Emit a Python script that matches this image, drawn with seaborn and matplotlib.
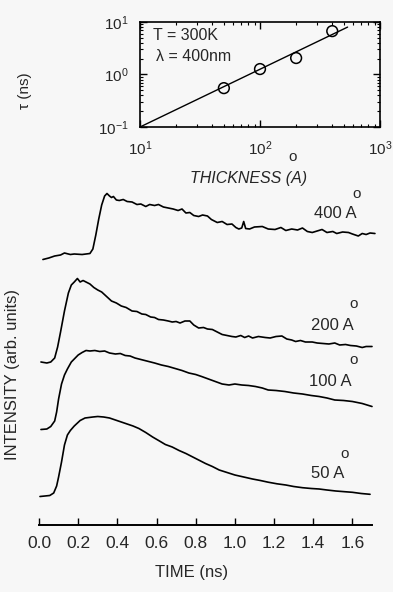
import matplotlib
matplotlib.use("Agg")
import matplotlib.pyplot as plt
import pandas as pd
import seaborn as sns
from matplotlib.ticker import LogLocator, LogFormatterMathtext

sns.set_theme(style="white")
plt.rcParams["font.family"] = ["Liberation Sans", "DejaVu Sans"]
plt.rcParams["mathtext.fontset"] = "custom"
plt.rcParams["mathtext.rm"] = "Liberation Sans"
plt.rcParams["mathtext.it"] = "Liberation Sans:italic"

BG = "#f7f7f7"

# ---- time-resolved PL traces (stacked, arb. units) ----
t_400 = [0.02, 0.05, 0.08, 0.11, 0.13, 0.16, 0.18, 0.22, 0.26, 0.275, 0.29, 0.305, 0.32, 0.335,
         0.347, 0.36, 0.37, 0.38, 0.395, 0.41, 0.43, 0.45, 0.475, 0.50, 0.52, 0.545, 0.565, 0.59,
         0.61, 0.635, 0.66, 0.685, 0.71, 0.73, 0.75, 0.77, 0.79, 0.815, 0.835, 0.86, 0.88, 0.91,
         0.935, 0.96, 0.985, 1.005, 1.02, 1.035, 1.045, 1.055, 1.075, 1.10, 1.14, 1.17, 1.205,
         1.235, 1.26, 1.29, 1.32, 1.345, 1.37, 1.395, 1.42, 1.445, 1.47, 1.50, 1.52, 1.55, 1.58,
         1.60, 1.63, 1.65, 1.67, 1.69, 1.715]
i_400 = [26.55, 26.7, 26.9, 27.0, 27.2, 27.05, 27.1, 27.05, 27.15, 27.6, 29.0, 30.6, 32.0, 32.9,
         33.15, 32.9, 32.75, 32.85, 32.5, 32.45, 32.55, 32.35, 32.3, 32.05, 32.1, 31.85, 32.05, 31.95,
         32.05, 31.8, 31.7, 31.6, 31.45, 31.6, 31.2, 31.25, 30.95, 30.85, 31.0, 30.9, 30.55, 30.25,
         30.35, 30.05, 30.1, 29.75, 29.6, 29.7, 30.35, 29.65, 29.6, 29.8, 29.85, 29.6, 29.55,
         29.75, 29.45, 29.6, 29.5, 29.7, 29.35, 29.25, 29.4, 29.55, 29.25, 29.35, 29.15, 29.3, 29.25,
         29.1, 28.9, 29.15, 29.05, 29.2, 29.15]

t_200 = [0.01, 0.04, 0.06, 0.08, 0.095, 0.11, 0.13, 0.15, 0.165, 0.18, 0.196, 0.21, 0.225, 0.24,
         0.26, 0.28, 0.30, 0.32, 0.345, 0.37, 0.395, 0.42, 0.445, 0.475, 0.50, 0.525, 0.545, 0.57,
         0.59, 0.61, 0.635, 0.66, 0.68, 0.70, 0.72, 0.745, 0.77, 0.79, 0.815, 0.84, 0.86, 0.885,
         0.91, 0.935, 0.96, 0.985, 1.005, 1.03, 1.05, 1.07, 1.09, 1.12, 1.155, 1.18, 1.21, 1.24,
         1.265, 1.29, 1.31, 1.335, 1.36, 1.395, 1.42, 1.45, 1.48, 1.51, 1.535, 1.565, 1.59, 1.62,
         1.65, 1.67, 1.70]
i_200 = [16.3, 16.2, 16.3, 16.7, 17.8, 19.3, 21.4, 23.2, 24.0, 24.3, 24.65, 24.3, 24.45, 24.3,
         24.1, 23.75, 23.5, 23.3, 22.85, 22.4, 22.2, 21.9, 21.75, 21.4, 21.35, 21.1, 21.05, 20.8,
         20.75, 20.55, 20.5, 20.4, 20.3, 20.35, 20.2, 20.4, 20.4, 20.0, 19.7, 19.75, 19.6, 19.55,
         19.3, 19.05, 18.95, 18.85, 18.8, 18.95, 18.75, 18.9, 18.7, 18.85, 18.75, 18.7, 18.85, 18.9,
         18.6, 18.5, 18.35, 18.45, 18.3, 18.3, 18.2, 18.15, 18.1, 18.2, 18.0, 18.05, 17.95, 17.9,
         17.75, 17.85, 17.85]

t_100 = [0.01, 0.04, 0.06, 0.08, 0.09, 0.10, 0.115, 0.13, 0.145, 0.165, 0.18, 0.20, 0.22, 0.24,
         0.26, 0.285, 0.31, 0.335, 0.36, 0.39, 0.415, 0.44, 0.465, 0.49, 0.52, 0.56, 0.59, 0.625,
         0.66, 0.695, 0.73, 0.765, 0.80, 0.83, 0.865, 0.90, 0.935, 0.97, 1.00, 1.035, 1.07, 1.105,
         1.14, 1.17, 1.21, 1.255, 1.30, 1.345, 1.39, 1.43, 1.47, 1.51, 1.555, 1.60, 1.65, 1.70]
i_100 = [9.55, 9.6, 9.85, 10.4, 11.3, 12.6, 14.1, 15.0, 15.6, 16.3, 16.6, 17.0, 17.25, 17.45,
         17.4, 17.45, 17.35, 17.4, 17.2, 17.1, 17.15, 16.95, 16.9, 16.7, 16.55, 16.35, 16.2, 16.0,
         15.85, 15.65, 15.45, 15.2, 15.05, 14.85, 14.6, 14.35, 14.1, 14.0, 14.1, 14.0, 13.95, 13.85,
         13.7, 13.5, 13.45, 13.35, 13.2, 13.1, 12.95, 12.85, 12.7, 12.5, 12.45, 12.35, 12.15, 11.85]

t_50 = [0.005, 0.03, 0.055, 0.075, 0.09, 0.10, 0.115, 0.13, 0.145, 0.16, 0.18, 0.21, 0.235, 0.255,
        0.275, 0.30, 0.33, 0.36, 0.39, 0.42, 0.45, 0.48, 0.51, 0.545, 0.58, 0.615, 0.645, 0.68,
        0.715, 0.75, 0.78, 0.815, 0.85, 0.885, 0.92, 0.96, 1.00, 1.045, 1.09, 1.13, 1.17, 1.215,
        1.26, 1.30, 1.345, 1.39, 1.43, 1.47, 1.515, 1.56, 1.60, 1.645, 1.69]
i_50 = [2.85, 2.9, 2.95, 3.2, 3.9, 4.8, 6.3, 8.0, 9.0, 9.45, 9.9, 10.45, 10.7, 10.75,
        10.8, 10.85, 10.8, 10.7, 10.5, 10.3, 10.1, 9.9, 9.65, 9.25, 8.8, 8.4, 8.05, 7.8,
        7.45, 7.15, 6.85, 6.5, 6.15, 5.85, 5.5, 5.25, 5.0, 4.8, 4.6, 4.45, 4.28, 4.12,
        4.0, 3.85, 3.73, 3.65, 3.6, 3.5, 3.4, 3.33, 3.27, 3.15, 3.07]

sample_labels = ["400 A", "200 A", "100 A", "50 A"]
time_ticks = [0.0, 0.2, 0.4, 0.6, 0.8, 1.0, 1.2, 1.4, 1.6]

# ---- decay time vs. well thickness ----
thickness = [50, 100, 200, 400]
tau = [0.55, 1.27, 2.06, 6.7]
fit_thickness = [10, 537]
fit_tau = [0.1, 8.0]

traces = pd.concat([
    pd.DataFrame({"time": t, "intensity": i, "sample": s})
    for t, i, s in zip([t_400, t_200, t_100, t_50], [i_400, i_200, i_100, i_50], sample_labels)
])
points = pd.DataFrame({"thickness": thickness, "tau": tau})
fit = pd.DataFrame({"thickness": fit_thickness, "tau": fit_tau})

W, H = 393, 592
fig = plt.figure(figsize=(W / 100, H / 100), dpi=100, facecolor=BG)

# main panel: stacked decay traces
ax = fig.add_axes([39 / W, 1 - 525 / H, 333 / W, 340 / H], facecolor=BG)
for s in sample_labels:
    sns.lineplot(data=traces[traces["sample"] == s], x="time", y="intensity", ax=ax,
                 color="black", lw=1.2, sort=False, estimator=None, clip_on=False)
ax.set_xlim(0, 1.7)
ax.set_ylim(0, 34)
for side in ["left", "right", "top"]:
    ax.spines[side].set_visible(False)
ax.spines["bottom"].set_color("black")
ax.spines["bottom"].set_linewidth(1.4)
ax.set_xticks(time_ticks)
ax.set_xticklabels([f"{v:.1f}" for v in time_ticks])
ax.set_yticks([])
ax.tick_params(axis="x", direction="in", length=5, width=1.0, color="black",
               labelsize=12.5, pad=8, bottom=True)
ax.set_xlabel("TIME (ns)", fontsize=12, va="center")
ax.xaxis.set_label_coords((192 - 39) / 333, (525 - 572) / 340)
ax.set_ylabel("INTENSITY (arb. units)", fontsize=12, va="center", ha="center")
ax.yaxis.set_label_coords((13 - 39) / 333, (525 - 375) / 340)

label_pos = {"400 A": (1.513, 31.2), "200 A": (1.498, 19.9),
             "100 A": (1.488, 14.3), "50 A": (1.472, 5.2)}
ring_pos = {"400 A": (1.621, 33.1), "200 A": (1.605, 22.1),
            "100 A": (1.605, 16.5), "50 A": (1.559, 7.1)}
for s in sample_labels:
    x, y = label_pos[s]
    ax.text(x, y, s, fontsize=12, ha="center", va="center")
    x, y = ring_pos[s]
    ax.text(x, y, "o", fontsize=11, ha="center", va="center")
fig.text(293 / W, 1 - 157 / H, "o", fontsize=11, ha="center", va="center")

# inset: decay time vs thickness
ins = fig.add_axes([140 / W, 1 - 127 / H, 240 / W, 105 / H], facecolor=BG)
sns.lineplot(data=fit, x="thickness", y="tau", ax=ins, color="black", lw=1.0)
sns.scatterplot(data=points, x="thickness", y="tau", ax=ins, marker="o", s=60,
                facecolor="none", edgecolor="black", linewidth=1.1, zorder=3)
ins.set_xscale("log")
ins.set_yscale("log")
ins.set_xlim(10, 1000)
ins.set_ylim(0.1, 10)
for sp in ins.spines.values():
    sp.set_color("black")
    sp.set_linewidth(1.2)
ins.xaxis.set_major_locator(LogLocator(base=10, numticks=5))
ins.yaxis.set_major_locator(LogLocator(base=10, numticks=5))
ins.xaxis.set_major_formatter(LogFormatterMathtext())
ins.yaxis.set_major_formatter(LogFormatterMathtext())
ins.tick_params(which="both", direction="in", top=True, right=True, bottom=True, left=True,
                color="black", labelsize=11)
ins.tick_params(which="major", length=5, width=1.0)
ins.tick_params(which="minor", length=2.5, width=0.8)
ins.tick_params(axis="x", which="major", pad=9)
ins.tick_params(axis="y", which="major", pad=8)
ins.set_xlabel("THICKNESS (A)", fontsize=11.5, style="italic", va="center")
ins.xaxis.set_label_coords((249 - 140) / 240, (127 - 179) / 105)
ins.set_ylabel("τ (ns)", fontsize=11, va="center", ha="center")
ins.yaxis.set_label_coords((25 - 140) / 240, (127 - 91) / 105)
ins.text(13 / 240, (127 - 36) / 105, "T = 300K", transform=ins.transAxes,
         fontsize=11.5, ha="left", va="center")
ins.text(16 / 240, (127 - 57) / 105, "λ = 400nm", transform=ins.transAxes,
         fontsize=11.5, ha="left", va="center")

fig.savefig("out.png", dpi=100, facecolor=BG)
